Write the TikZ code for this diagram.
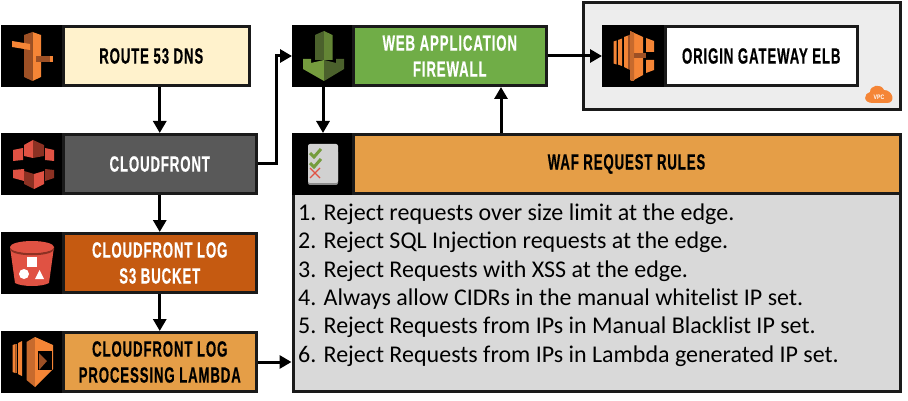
\documentclass[tikz,border=0pt]{standalone}
\usepackage{fontspec}
\setmainfont{Carlito}
\newfontfamily\labfont[FakeStretch=0.6,FakeBold=0.5,LetterSpace=4]{Liberation Sans Bold}
\newfontfamily\vpcfont[FakeStretch=0.8]{Liberation Sans Bold}
\usetikzlibrary{arrows.meta}
\definecolor{awsor}{HTML}{F58536}
\definecolor{awsdk}{HTML}{9D5025}
\definecolor{awsmd}{HTML}{C76A2D}
\definecolor{awsrd}{HTML}{E05243}
\definecolor{awsrdk}{HTML}{8C3123}
\definecolor{awsgr}{HTML}{759C3E}
\definecolor{awsgrd}{HTML}{4B612C}
\definecolor{lineblk}{HTML}{1A1A1A}
\definecolor{cream}{HTML}{FFF2CC}
\definecolor{cfgrey}{HTML}{595959}
\definecolor{rust}{HTML}{C55A11}
\definecolor{sand}{HTML}{E59E47}
\definecolor{wafgreen}{HTML}{70AD47}
\definecolor{listgrey}{HTML}{D9D9D9}
\definecolor{vpcgrey}{HTML}{EDEDED}
\tikzset{
  iconbox/.style={fill=black,draw=none,inner sep=0pt,outer sep=0pt,minimum width=62pt,minimum height=62pt},
  labelbox/.style={draw=lineblk,line width=3pt,inner sep=0pt,outer sep=1.5pt,align=center,
    font=\fontsize{22}{26}\labfont,minimum height=59pt},
  conn/.style={line width=3pt,draw=black,-{Triangle[length=12pt,width=13pt]}},
}
\begin{document}
\begin{tikzpicture}[x=1pt,y=-1pt]
\useasboundingbox (0,0) rectangle (908,401);
\fill[white] (0,0) rectangle (908,401);
% containers
\node (vpc) [draw=lineblk,line width=3pt,fill=vpcgrey,minimum width=316.5pt,minimum height=107.5pt,inner sep=0pt] at (741.75,56.25) {};
\node (list) [draw=lineblk,line width=3pt,fill=listgrey,minimum width=607pt,minimum height=197.5pt,inner sep=0pt,outer sep=1.5pt] at (596.5,292.25) {};
% left column
\node (ri) [iconbox] at (32,56) {};
\node (rl) [labelbox,fill=cream,minimum width=186.5pt] at (156.25,56) {ROUTE 53 DNS\hspace*{10pt}};
\node (ci) [iconbox] at (32,164) {};
\node (cl) [labelbox,fill=cfgrey,text=white,minimum width=193.5pt] at (159.75,164) {CLOUDFRONT};
\node (si) [iconbox] at (32,263) {};
\node (sl) [labelbox,fill=rust,text=white,minimum width=193.5pt] at (159.75,263) {CLOUDFRONT LOG\\S3 BUCKET};
\node (li) [iconbox] at (32,362) {};
\node (ll) [labelbox,fill=sand,text=black,minimum width=193.5pt] at (159.75,362) {CLOUDFRONT LOG\\PROCESSING LAMBDA};
% WAF
\node (wi) [iconbox] at (323,56) {};
\node (wl) [labelbox,fill=wafgreen,text=white,minimum width=193.5pt] at (449.75,56) {WEB APPLICATION\\FIREWALL};
\node (qi) [iconbox] at (323,164) {};
\node (ql) [labelbox,fill=sand,text=black,minimum width=547pt] at (626.5,164) {WAF REQUEST RULES};
% ELB
\node (ei) [iconbox,minimum width=63pt] at (633.5,56) {};
\node (el) [labelbox,fill=white,text=black,minimum width=192.5pt] at (761.25,56) {ORIGIN GATEWAY ELB};
% rule text
\node (rules) [anchor=north west,align=left,inner sep=0pt,font=\fontsize{24}{28.4}\selectfont] at (298,203.5) {%
1. Reject requests over size limit at the edge.\\
2. Reject SQL Injection requests at the edge.\\
3. Reject Requests with XSS at the edge.\\
4. Always allow CIDRs in the manual whitelist IP set.\\
5. Reject Requests from IPs in Manual Blacklist IP set.\\
6. Reject Requests from IPs in Lambda generated IP set.};
% connectors
\coordinate (upx) at (501,100);
\draw[conn] (cl.north |- rl.south) -- (cl.north);
\draw[conn] (cl.south) -- (sl.north);
\draw[conn] (sl.south) -- (ll.north);
\draw[conn] (ll.east |- li.east) -- (list.west |- li.east);
\draw[conn] (cl.east) -- ++(18,0) |- (wi.west);
\draw[conn] (wi.south) -- (qi.north);
\draw[conn] (upx |- ql.north) -- (upx |- wl.south);
\draw[conn] (wl.east) -- (ei.west);
% Route 53 icon
\fill[awsdk] (24,35) -- (32.5,32) -- (32.5,81) -- (24,77) -- cycle;
\fill[awsor] (32.5,32) -- (41,35) -- (41,77) -- (32.5,81) -- cycle;
\fill[awsor] (12,41) -- (30,44) -- (30,50) -- (12,47) -- cycle;
\fill[awsdk] (36,56) -- (50,56) -- (50,62) -- (36,62) -- cycle;
\fill[awsor] (50,56) -- (53,56) -- (53,62) -- (50,62) -- cycle;
% CloudFront icon
\fill[awsrd] (13,150) -- (23,148) -- (23,160) -- (13,161) -- cycle;
\fill[awsrd] (24,145) -- (33,140) -- (33,158) -- (24,156) -- cycle;
\fill[awsrdk] (33,140) -- (44,145) -- (44,156) -- (33,158) -- cycle;
\fill[awsrd] (45,148) -- (54,150) -- (54,161) -- (45,160) -- cycle;
\fill[awsrd] (13,170) -- (24,169) -- (24,181) -- (13,178) -- cycle;
\fill[awsrdk] (24,171) -- (34,174) -- (34,189) -- (24,184) -- cycle;
\fill[awsrd] (34,174) -- (44,171) -- (44,184) -- (34,189) -- cycle;
\fill[awsrdk] (45,169) -- (54,170) -- (54,178) -- (45,181) -- cycle;
% S3 icon
\fill[awsrd] (10,247) -- (54,247) -- (49,283) .. controls (42,287) and (22,287) .. (15,283) -- cycle;
\fill[awsrdk] (10,247) .. controls (10,255) and (54,255) .. (54,247) -- (54,250) .. controls (50,257) and (14,257) .. (10,250) -- cycle;
\fill[awsrd] (32,247) ellipse[x radius=22pt,y radius=6pt];
\fill[white] (27,257) rectangle (37,267);
\fill[white] (24,274) circle[radius=5pt];
\fill[white] (35,279) -- (39.5,270) -- (44,279) -- cycle;
% Lambda icon
\fill[awsor] (12.5,345) -- (15.5,344) -- (15.5,373) -- (12.5,372) -- cycle;
\fill[awsmd] (15.5,344) -- (16.5,344) -- (16.5,373) -- (15.5,373) -- cycle;
\fill[awsor] (18,343) -- (22,341) -- (22,376) -- (18,374) -- cycle;
\fill[awsmd] (26.5,342) -- (35,337) -- (35,387) -- (26.5,380) -- cycle;
\fill[awsor] (35,337) -- (53,345) -- (53,369) -- (35,387) -- cycle;
\fill[black] (38,351) -- (52,351) -- (52,370) -- (38,370) -- cycle;
\fill[awsdk] (39,353) -- (47,361) -- (39,370) -- cycle;
% WAF icon
\fill[awsgrd] (315,35) -- (324,31) -- (324,60) -- (315,60) -- cycle;
\fill[awsgr!85!black] (324,31) -- (332.5,35) -- (332.5,60) -- (324,60) -- cycle;
\fill[awsgr] (303,59) -- (311,59) -- (311,63) -- (324,60) -- (324,81) -- (303,69) -- cycle;
\fill[awsgrd] (324,60) -- (336,63) -- (336,59) -- (344,59) -- (344,69) -- (324,81) -- cycle;
% rules icon
\fill[black!45,rounded corners=2pt] (308,150) rectangle (338,185);
\fill[black!18,rounded corners=2pt] (308,144) rectangle (338,183);
\draw[awsgr,line width=3pt] (310,153) -- (314,157) -- (321,149);
\draw[awsgr,line width=3pt] (310,163) -- (314,167) -- (321,159);
\draw[awsrd,line width=1.4pt] (310,168) -- (320,178) (310,178) -- (320,168);
% ELB icon
\fill[awsor] (613.5,41.5) -- (616.5,40.5) -- (616.5,64.5) -- (613.5,63.5) -- cycle;
\fill[awsor] (618,40) -- (622,38.5) -- (622,66) -- (618,64.5) -- cycle;
\fill[awsor] (624,37) -- (628,35.5) -- (628,69) -- (624,67) -- cycle;
\fill[awsdk] (628,35.5) -- (630,34.5) -- (630,70) -- (628,69) -- cycle;
\fill[awsor] (630,31) -- (643,37) -- (643,75) -- (632,81) -- (630,80) -- cycle;
\fill[awsmd] (630,31) -- (634,33) -- (634,81) -- (630,80) -- cycle;
\fill[awsdk] (634,53) -- (646,53) -- (646,58) -- (634,58) -- cycle;
\fill[awsor] (646,38) -- (654,41) -- (654,52) -- (646,52) -- cycle;
\fill[awsor] (646,60) -- (654,60) -- (654,70) -- (646,73) -- cycle;
% VPC cloud
\fill[awsor] (873,103) .. controls (862,103) and (864,93) .. (870,92) .. controls (870,85) and (881,83) .. (884,90) .. controls (893,90) and (896,103) .. (887,103) -- cycle;
\node (vpctag) [text=white,font=\fontsize{6.5}{7}\vpcfont,inner sep=0pt] at (879,97.5) {VPC};
\end{tikzpicture}
\end{document}
